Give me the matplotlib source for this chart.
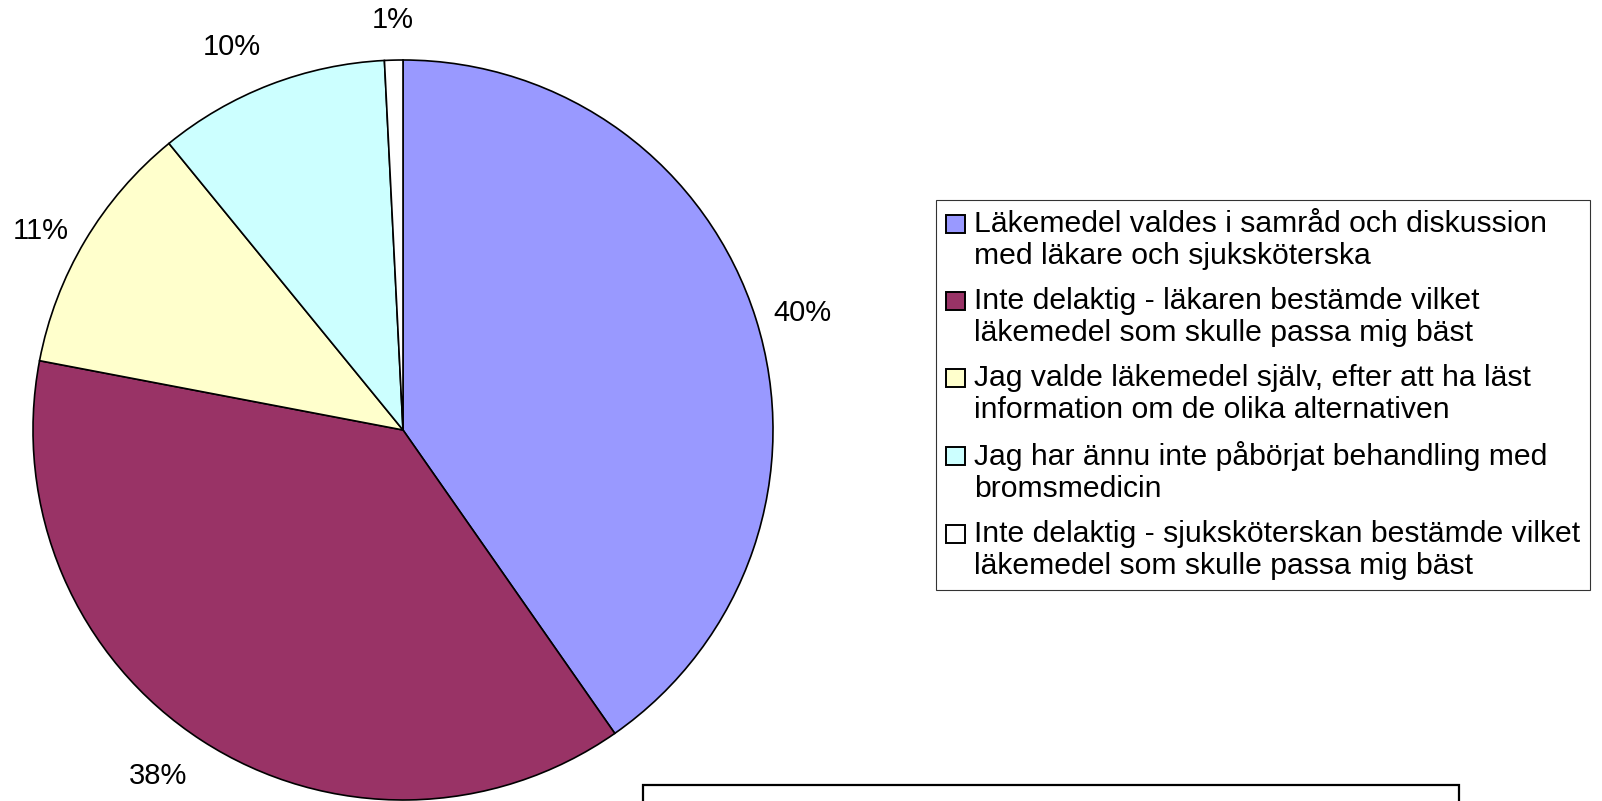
"""
Pie chart - delaktighet i val av läkemedel
"""

import numpy as np
import matplotlib
matplotlib.use('Agg')
import matplotlib.pyplot as plt
from matplotlib.patches import Rectangle, Patch
from matplotlib.legend_handler import HandlerPatch

plt.rcParams['font.family'] = ['Liberation Sans', 'DejaVu Sans']

# data (share in percent)
categories = [
    'Läkemedel valdes i samråd och diskussion\nmed läkare och sjuksköterska',
    'Inte delaktig - läkaren bestämde vilket\nläkemedel som skulle passa mig bäst',
    'Jag valde läkemedel själv, efter att ha läst\ninformation om de olika alternativen',
    'Jag har ännu inte påbörjat behandling med\nbromsmedicin',
    'Inte delaktig - sjuksköterskan bestämde vilket\nläkemedel som skulle passa mig bäst',
]
shares = [40.3, 37.7, 11.1, 10.1, 0.8]
colors = ['#9999FF', '#993366', '#FFFFCC', '#CCFFFF', '#FFFFFF']

W, H = 1602, 801
fig = plt.figure(figsize=(W / 100, H / 100), dpi=100)

# pie area: centre ~(403, 430) px, radius ~370 px
ax = fig.add_axes([33 / W, 1 / H, 740 / W, 740 / H])
wedges, _ = ax.pie(
    shares, colors=colors, startangle=90, counterclock=False,
    wedgeprops=dict(edgecolor='black', linewidth=1.2),
)
ax.set_xlim(-1, 1)
ax.set_ylim(-1, 1)
ax.set_aspect('equal')
ax.axis('off')

# percentage labels just outside the rim, anchored like Excel's outside-end
total = sum(shares)
for w, v in zip(wedges, shares):
    ang = np.deg2rad((w.theta1 + w.theta2) / 2)
    c, s = np.cos(ang), np.sin(ang)
    ha = 'center' if abs(c) < 0.2 else ('left' if c > 0 else 'right')
    va = 'center' if abs(s) < 0.6 else ('bottom' if s > 0 else 'top')
    r = 1.05 if va == 'center' else 1.07
    ax.text(r * c, r * s, f'{v / total * 100:.0f}%', ha=ha, va=va,
            fontsize=21, clip_on=False)


def top_square(legend, orig_handle, xdescent, ydescent, width, height, fontsize):
    # Excel puts the key next to the first line of a wrapped entry
    return Rectangle((-xdescent, -ydescent + 11.8), width, height)


FS = 21.7
handles = [Patch(facecolor=c, edgecolor='black', linewidth=1.4) for c in colors]
leg = fig.legend(
    handles, categories, loc='upper left',
    bbox_to_anchor=(936 / W, 1 - 200 / H), borderaxespad=0,
    fontsize=FS, frameon=True, fancybox=False, shadow=False,
    handlelength=0.63, handleheight=0.56, handletextpad=0.3,
    labelspacing=0.55, borderpad=0.33,
    handler_map={Patch: HandlerPatch(patch_func=top_square)},
)
frame = leg.get_frame()
frame.set_edgecolor('black')
frame.set_linewidth(0.8)
for t in leg.get_texts():
    t.set_linespacing(1.2)

# empty text box cut off at the bottom of the image
fig.patches.append(Rectangle((643 / W, -0.05), (1459 - 643) / W, 0.05 + 16 / H,
                             transform=fig.transFigure, facecolor='white',
                             edgecolor='black', linewidth=1.6, clip_on=False))

fig.savefig('out.png', dpi=100)
